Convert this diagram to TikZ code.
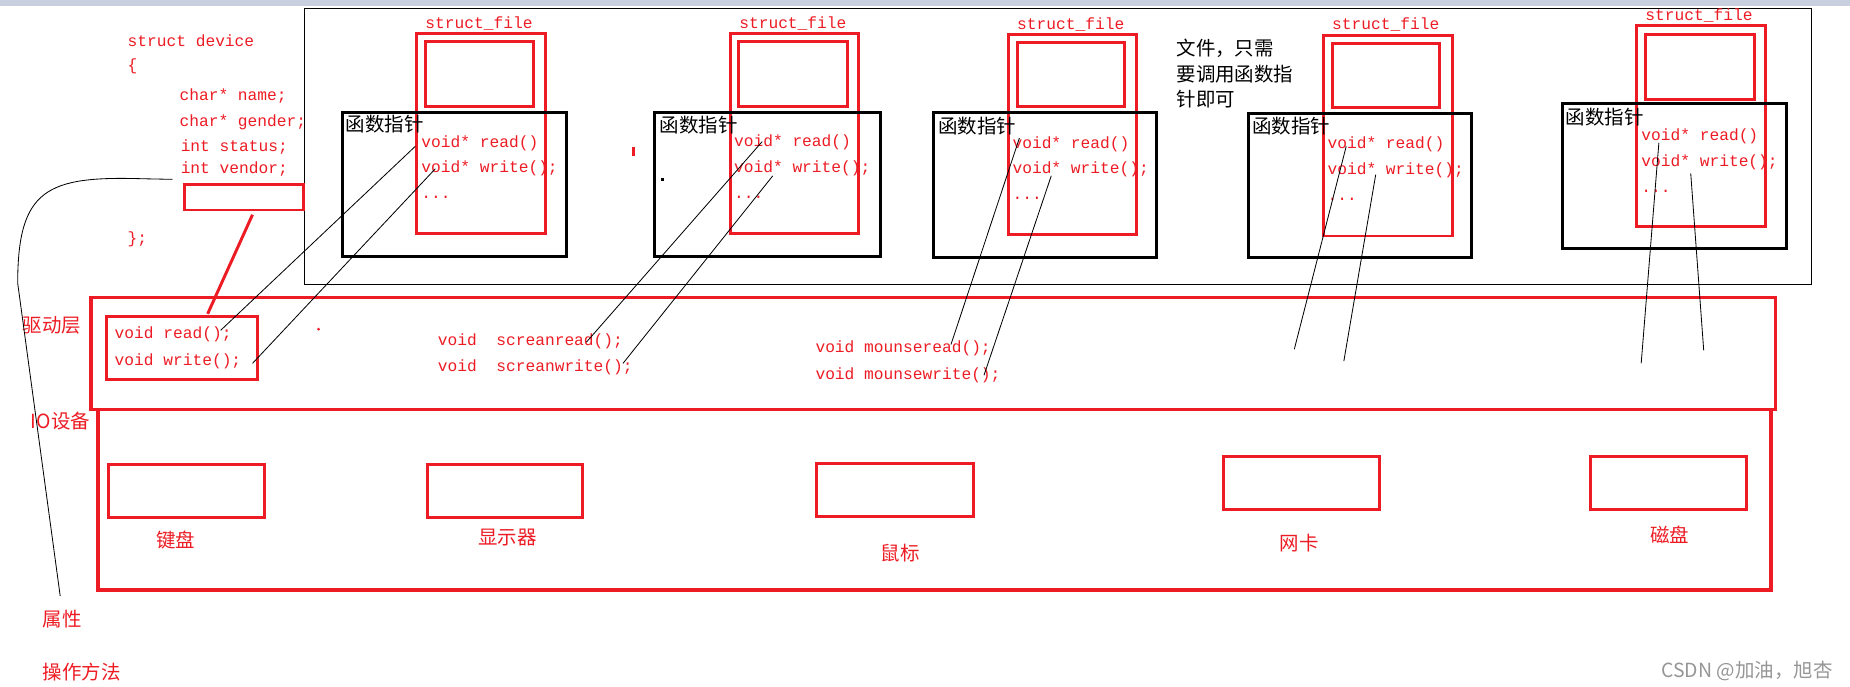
\documentclass[tikz,border=0pt]{standalone}
\usepackage{fontspec}
\setmainfont{Liberation Sans}
\newfontfamily\cjkf{Noto Sans CJK SC}
\newfontfamily\codef{Liberation Mono}
\definecolor{myred}{RGB}{237,28,36}
\definecolor{barc}{RGB}{200,207,222}
\definecolor{wmark}{RGB}{150,150,150}
\newcommand\mybox[6]{\node[#1,minimum width={(#5)-(#3)},minimum height={(#6)-(#4)}] (#2) at ({((#3)+(#5))/2},{((#4)+(#6))/2}) {};}
\begin{document}
\begin{tikzpicture}[x=1pt,y=-1pt,
 code/.style={font=\codef\fontsize{13.75}{16}\selectfont,text=myred,inner sep=0pt,anchor=base west},
 codec/.style={font=\codef\fontsize{13.75}{16}\selectfont,text=myred,inner sep=0pt,anchor=base},
 cn/.style={font=\cjkf\fontsize{16.5}{20}\selectfont,inner sep=0pt,anchor=west},
 cnc/.style={font=\cjkf\fontsize{16.5}{20}\selectfont,inner sep=0pt,text=myred},
 rb/.style={draw=myred,line width=2.5pt,inner sep=0pt,outer sep=0pt},
 rbig/.style={draw=myred,line width=3pt,inner sep=0pt,outer sep=0pt},
 bb/.style={draw=black,line width=2.5pt,inner sep=0pt,outer sep=0pt},
 frame/.style={draw=black,line width=0.85pt,inner sep=0pt,outer sep=0pt},
 thinl/.style={draw=black,line width=0.7pt},
 ]
\fill[white] (0,0) rectangle (1568,582);
\useasboundingbox (0,0) rectangle (1568,582);
\fill[barc] (0,0) rectangle (1568,5);

% outer frame
\mybox{frame}{outer}{258}{7}{1535}{241}

% struct device
\node[code] (sd1) at (108,39) {struct device};
\node[code] (sd2) at (108,60) {\{};
\node[code] (sd3) at (152,85) {char* name;};
\node[code] (sd4) at (152,107) {char* gender;};
\node[code] (sd5) at (153,128) {int status;};
\node[code] (sd6) at (153,147) {int vendor;};
\node[code] (sd7) at (108,206) {\};};
\mybox{rb}{sdev}{156}{156}{257}{178}

% groups of struct_file
\mybox{rb}{o1}{353}{28}{462}{198}
\mybox{rb}{i1}{361}{35}{452}{90}
\mybox{bb}{b1}{290}{95}{480}{217}
\mybox{rb}{o2}{619}{28}{728}{198}
\mybox{rb}{i2}{626}{35}{718}{90}
\mybox{bb}{b2}{555}{95}{746}{217}
\mybox{rb}{o3}{855}{29}{963}{199}
\mybox{rb}{i3}{862}{36}{953}{90}
\mybox{bb}{b3}{791}{95}{980}{218}
\mybox{rb}{o4}{1122}{30}{1231}{200}
\mybox{rb}{i4}{1129}{37}{1220}{91}
\mybox{bb}{b4}{1058}{96}{1247}{218}
\mybox{rb}{o5}{1387}{22}{1496}{192}
\mybox{rb}{i5}{1395}{29}{1487}{84}
\mybox{bb}{b5}{1324}{88}{1514}{211}

\node[codec] (sf1) at (406,24.5) {struct\_file};
\node[codec] (sf2) at (672,24) {struct\_file};
\node[codec] (sf3) at (907.5,24.7) {struct\_file};
\node[codec] (sf4) at (1174.5,25.3) {struct\_file};
\node[codec] (sf5) at (1440,17.7) {struct\_file};

\node[cn] (fp1) at (293,105) {函数指针};
\node[cn] (fp2) at (559,106) {函数指针};
\node[cn] (fp3) at (795,107) {函数指针};
\node[cn] (fp4) at (1061,107) {函数指针};
\node[cn] (fp5) at (1327,99) {函数指针};

\node[code] (r1) at (357,125) {void* read()};
\node[code] (w1) at (357,146) {void* write();};
\node[code] (e1) at (357,168) {...};
\node[code] (r2) at (622,124) {void* read()};
\node[code] (w2) at (622,146) {void* write();};
\node[code] (e2) at (622,168) {...};
\node[code] (r3) at (858,125.5) {void* read()};
\node[code] (w3) at (858,147) {void* write();};
\node[code] (e3) at (858,169) {...};
\node[code] (r4) at (1125,126) {void* read()};
\node[code] (w4) at (1125,148) {void* write();};
\node[code] (e4) at (1125,170) {...};
\node[code] (r5) at (1391,119) {void* read()};
\node[code] (w5) at (1391,141) {void* write();};
\node[code] (e5) at (1391,163) {...};

\node[cn] (note1) at (997,41) {文件，只需};
\node[cn] (note2) at (997,63) {要调用函数指};
\node[cn] (note3) at (997,84) {针即可};

% driver layer
\mybox{rbig}{drv}{77}{252}{1505}{347}
\mybox{rbig}{io}{83}{347}{1501}{500}
\mybox{rb}{drvin}{90}{268}{218}{322}
\node[cn,text=myred] (lbdrv) at (19,276) {驱动层};
\node[cn,text=myred] (lbio) at (26,357) {IO设备};
\node[code] (dr1) at (97,287) {void read();};
\node[code] (dw1) at (97,310) {void write();};
\node[code] (dr2) at (371,293) {void\ \ screanread();};
\node[code] (dw2) at (371,315) {void\ \ screanwrite();};
\node[code] (dr3) at (691,299) {void mounseread();};
\node[code] (dw3) at (691,322) {void mounsewrite();};
\fill[myred] (270,279) circle (1.3);
\fill[myred] (536,125) rectangle (538.5,132);
\fill[black] (560,150.5) rectangle (562.5,153);

% devices
\mybox{rb}{kb}{92}{394}{224}{439}
\mybox{rb}{disp}{362}{394}{494}{439}
\mybox{rb}{mouse}{692}{393}{825}{438}
\mybox{rb}{net}{1037}{387}{1169}{432}
\mybox{rb}{disk}{1348}{387}{1480}{432}
\node[cnc] (lkb) at (149,458) {键盘};
\node[cnc] (ldisp) at (430,456) {显示器};
\node[cnc] (lmouse) at (763,469) {鼠标};
\node[cnc] (lnet) at (1101,460) {网卡};
\node[cnc] (ldisk) at (1415,453) {磁盘};

\node[cn,text=myred] (attr) at (36,525) {属性};
\node[cn,text=myred] (ops) at (36,570) {操作方法};

% connectors
\coordinate (rlA) at (214,182);
\coordinate (rlB) at (176,266);
\draw[myred,line width=2.5pt] (rlA) -- (rlB);

\coordinate (cvA) at (146,152);
\coordinate (cvB) at (51,505);
\draw[thinl] (cvA) -- (121,151.5) .. controls (40,149) and (15,160) .. (15,240) -- (cvB);

\coordinate (a1) at (352,124);  \coordinate (z1) at (187,280);
\coordinate (a2) at (369,143);  \coordinate (z2) at (214,308);
\coordinate (a3) at (646,120);  \coordinate (z3) at (497,290);
\coordinate (a4) at (655,149);  \coordinate (z4) at (528,308);
\coordinate (a5) at (864,117);  \coordinate (z5) at (806,292);
\coordinate (a6) at (891,149);  \coordinate (z6) at (834,318);
\coordinate (a7) at (1141,124); \coordinate (z7) at (1097,296);
\coordinate (a8) at (1166,148); \coordinate (z8) at (1139,306);
\coordinate (a9) at (1406,121); \coordinate (z9) at (1391,308);
\coordinate (a10) at (1433,147); \coordinate (z10) at (1444,297);
\foreach \i in {1,...,10} {\draw[thinl] (a\i) -- (z\i);}

\node[font=\cjkf\fontsize{16.5}{19}\selectfont,text=wmark,inner sep=0pt,anchor=west] (wm) at (1408,569) {CSDN @加油，旭杏};
\end{tikzpicture}
\end{document}
